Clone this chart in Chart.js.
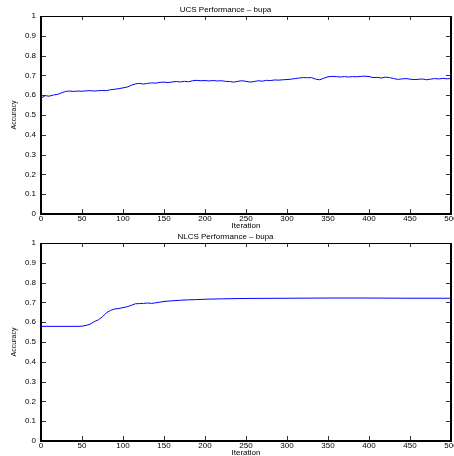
<!DOCTYPE html>
<html>
<head>
<meta charset="utf-8">
<script src="https://cdn.jsdelivr.net/npm/chart.js@4"></script>
<style>
html, body { margin: 0; padding: 0; background: #fff; overflow: hidden; width: 454px; height: 456px; }
#wrap { position: relative; width: 454px; height: 456px; overflow: hidden; }
canvas { position: absolute; left: 0; }
</style>
</head>
<body>
<div id="wrap">
  <canvas id="ucs" width="470" height="232" style="top:0px"></canvas>
  <canvas id="nlcs" width="470" height="232" style="top:227px"></canvas>
</div>
<script>
// tick labels
var xTicks = [0, 50, 100, 150, 200, 250, 300, 350, 400, 450, 500];
var yTicks = [0, 0.1, 0.2, 0.3, 0.4, 0.5, 0.6, 0.7, 0.8, 0.9, 1];

// UCS run
var ucsIter = [0, 5, 10, 15, 20, 25, 30, 35, 40, 45, 50, 55, 60, 65, 70, 75, 80, 85, 90, 95,
  100, 105, 110, 115, 120, 125, 130, 135, 140, 145, 150, 155, 160, 165, 170, 175, 180, 185, 190, 195,
  200, 205, 210, 215, 220, 225, 230, 235, 240, 245, 250, 255, 260, 265, 270, 275, 280, 285, 290, 295,
  300, 305, 310, 315, 320, 325, 330, 335, 340, 345, 350, 355, 360, 365, 370, 375, 380, 385, 390, 395,
  400, 405, 410, 415, 420, 425, 430, 435, 440, 445, 450, 455, 460, 465, 470, 475, 480, 485, 490, 495, 500];
var ucsAcc = [0.584, 0.598, 0.595, 0.601, 0.604, 0.612, 0.619, 0.621, 0.619, 0.621, 0.620, 0.622, 0.623, 0.621, 0.623, 0.624, 0.623, 0.628, 0.630, 0.633,
  0.637, 0.641, 0.650, 0.657, 0.660, 0.656, 0.660, 0.662, 0.661, 0.665, 0.666, 0.664, 0.667, 0.669, 0.667, 0.670, 0.668, 0.673, 0.675, 0.673,
  0.674, 0.672, 0.674, 0.672, 0.673, 0.670, 0.669, 0.666, 0.670, 0.673, 0.670, 0.666, 0.669, 0.673, 0.671, 0.675, 0.674, 0.677, 0.676, 0.678,
  0.679, 0.681, 0.684, 0.687, 0.689, 0.688, 0.689, 0.681, 0.678, 0.686, 0.693, 0.695, 0.694, 0.692, 0.694, 0.692, 0.694, 0.693, 0.695, 0.696,
  0.694, 0.689, 0.690, 0.687, 0.691, 0.689, 0.684, 0.680, 0.682, 0.684, 0.681, 0.679, 0.680, 0.682, 0.678, 0.681, 0.684, 0.682, 0.685, 0.683, 0.684];

// NLCS run (bottom panel)
var nlcsIter = [0, 45, 50, 55, 60, 65, 70, 75, 80, 85, 90, 95, 100, 105, 110, 115, 120, 125, 130, 135,
  140, 145, 150, 160, 170, 180, 190, 200, 220, 250, 300, 350, 400, 450, 500];
var nlcsAcc = [0.579, 0.579, 0.580, 0.584, 0.590, 0.603, 0.612, 0.628, 0.648, 0.660, 0.667, 0.669, 0.674, 0.678, 0.685, 0.693, 0.694, 0.695, 0.697, 0.695,
  0.698, 0.701, 0.705, 0.708, 0.711, 0.713, 0.714, 0.716, 0.718, 0.720, 0.721, 0.722, 0.722, 0.721, 0.721];

var tickFont = { family: 'Liberation Sans', size: 8 };

// matlab style frame with inward ticks on all four sides
var boxPlugin = {
  id: 'box',
  beforeInit: function(chart) {
    chart.ctx.letterSpacing = '0.5px';
  },
  afterDraw: function(chart) {
    var a = chart.chartArea, c = chart.ctx;
    var xs = chart.scales.x, ys = chart.scales.y;
    c.save();
    c.strokeStyle = '#333';
    c.lineWidth = 1;
    c.beginPath();
    xs.ticks.forEach(function(t) {
      var p = Math.round(xs.getPixelForValue(t.value)) + 0.5;
      c.moveTo(p, a.bottom); c.lineTo(p, a.bottom - 5);
      c.moveTo(p, a.top); c.lineTo(p, a.top + 4);
    });
    ys.ticks.forEach(function(t) {
      var p = Math.round(ys.getPixelForValue(t.value)) + 0.5;
      c.moveTo(a.left, p); c.lineTo(a.left + 5, p);
      c.moveTo(a.right, p); c.lineTo(a.right - 5, p);
    });
    c.stroke();
    c.strokeStyle = '#000';
    c.lineWidth = 1;
    c.beginPath();
    c.moveTo(a.left, a.top + 0.5); c.lineTo(a.right, a.top + 0.5);
    c.stroke();
    c.lineWidth = 2;
    c.beginPath();
    c.moveTo(a.left, a.top); c.lineTo(a.left, a.bottom);
    c.lineTo(a.right, a.bottom); c.lineTo(a.right, a.top);
    c.stroke();
    c.restore();
  }
};

function makeChart(id, title, iters, acc) {
  var pts = iters.map(function(v, i) { return { x: v, y: acc[i] }; });
  return new Chart(document.getElementById(id), {
    type: 'line',
    data: {
      datasets: [{
        data: pts,
        borderColor: '#0000ff',
        borderWidth: 1,
        pointRadius: 0,
        tension: 0,
        fill: false
      }]
    },
    options: {
      responsive: false,
      animation: false,
      layout: { padding: { left: 0, right: 19, top: 0, bottom: 0 } },
      plugins: {
        legend: { display: false },
        tooltip: { enabled: false },
        title: {
          display: true,
          text: title,
          color: '#000',
          font: { family: 'Liberation Sans', size: 8, weight: 'normal' },
          padding: { top: 5.2, bottom: 1.2 }
        }
      },
      scales: {
        x: {
          type: 'linear',
          min: 0,
          max: 500,
          grid: { display: false, drawTicks: false },
          border: { display: false },
          afterBuildTicks: function(s) { s.ticks = xTicks.map(function(v) { return { value: v }; }); },
          ticks: { color: '#000', font: tickFont, padding: 0, maxRotation: 0, autoSkip: false },
          title: { display: true, text: 'Iteration', color: '#000', font: tickFont, padding: { top: 0, bottom: 1 } },
          afterFit: function(s) { s.height = 18; }
        },
        y: {
          min: 0,
          max: 1,
          grid: { display: false, drawTicks: false },
          border: { display: false },
          afterBuildTicks: function(s) { s.ticks = yTicks.map(function(v) { return { value: v }; }); },
          ticks: {
            color: '#000', font: tickFont, padding: 5,
            callback: function(v) { return String(+v.toFixed(1)); }
          },
          title: { display: true, text: 'Accuracy', color: '#000', font: { family: 'Liberation Sans', size: 7 }, padding: { top: 10, bottom: 0 } },
          afterFit: function(s) { s.width = 41; }
        }
      }
    },
    plugins: [boxPlugin]
  });
}

makeChart('ucs', 'UCS Performance \u2013 bupa', ucsIter, ucsAcc);
makeChart('nlcs', 'NLCS Performance \u2013 bupa', nlcsIter, nlcsAcc);
</script>
</body>
</html>
